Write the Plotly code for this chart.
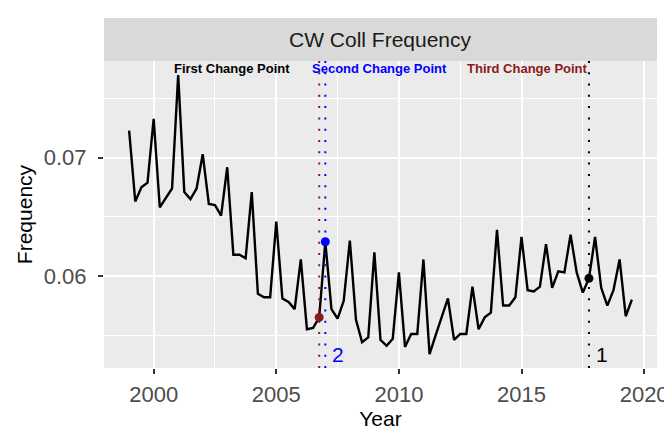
import plotly.graph_objects as go

#%% DATA

years = [1999 + 0.25 * i for i in range(83)]  # quarterly, 1999 Q1 .. 2019 Q3
freq = [
    0.0723, 0.0663, 0.0675, 0.0679, 0.0733, 0.0658, 0.0666, 0.0674,
    0.0770, 0.0671, 0.0665, 0.0674, 0.0703, 0.0661, 0.0660, 0.0651,
    0.0692, 0.0618, 0.0618, 0.0615, 0.0671, 0.0585, 0.0582, 0.0582,
    0.0646, 0.0581, 0.0578, 0.0572, 0.0614, 0.0555, 0.0556, 0.0565,
    0.0629, 0.0572, 0.0564, 0.0579, 0.0630, 0.0563, 0.0544, 0.0548,
    0.0620, 0.0546, 0.0541, 0.0547, 0.0603, 0.0540, 0.0551, 0.0551,
    0.0614, 0.0534, 0.0550, 0.0566, 0.0581, 0.0546, 0.0551, 0.0551,
    0.0591, 0.0555, 0.0565, 0.0569, 0.0639, 0.0575, 0.0575, 0.0582,
    0.0633, 0.0588, 0.0587, 0.0591, 0.0627, 0.0590, 0.0604, 0.0603,
    0.0635, 0.0603, 0.0586, 0.0598, 0.0633, 0.0590, 0.0575, 0.0588,
    0.0614, 0.0566, 0.0580,
]

cp_years = [2017.75, 2007.0, 2006.75]
cp_colors = ['black', 'blue', '#8B1A1A']
cp_names = ['First Change Point', 'Second Change Point', 'Third Change Point']
cp_name_x = [2003.2, 2009.2, 2015.25]
cp_numbers = ['1', '2', '']

panel_title = 'CW Coll Frequency'

#%% PLOT

FONT = 'Liberation Sans, Arial, sans-serif'

x_pad = (max(years) - min(years)) * 0.05
y_pad = (max(freq) - min(freq)) * 0.05
x_range = [min(years) - x_pad, max(years) + x_pad]
y_range = [min(freq) - y_pad, max(freq) + y_pad]

panel_top = 0.877

fig = go.Figure()

fig.add_trace(go.Scatter(
    x=years, y=freq, mode='lines',
    line=dict(color='black', width=2.4),
    hoverinfo='skip', showlegend=False,
))

for yr, col, name, nx, num in zip(cp_years, cp_colors, cp_names, cp_name_x, cp_numbers):
    # dotted vertical line
    fig.add_shape(
        type='line', xref='x', yref='paper',
        x0=yr, x1=yr, y0=0, y1=panel_top,
        line=dict(color=col, width=2, dash='2px,9.3px'),
    )
    # point at change
    fig.add_trace(go.Scatter(
        x=[yr], y=[freq[years.index(yr)]], mode='markers',
        marker=dict(color=col, size=9),
        hoverinfo='skip', showlegend=False,
    ))
    # label on top
    fig.add_annotation(
        x=nx, y=max(freq) + y_pad * 0.5, xref='x', yref='y',
        text=f'<b>{name}</b>', showarrow=False,
        font=dict(family=FONT, size=13, color=col),
    )
    if num:
        fig.add_annotation(
            x=yr, y=min(freq), xref='x', yref='y',
            text=num, showarrow=False, xanchor='left', xshift=5,
            font=dict(family=FONT, size=21, color=col),
        )

# strip
fig.add_shape(
    type='rect', xref='paper', yref='paper',
    x0=0, x1=1, y0=panel_top, y1=1,
    fillcolor='#D9D9D9', line_width=0, layer='below',
)
fig.add_annotation(
    x=0.5, y=(panel_top + 1) / 2, xref='paper', yref='paper',
    xanchor='center', yanchor='middle',
    text=panel_title, showarrow=False,
    font=dict(family=FONT, size=21, color='#1A1A1A'),
)

# page body keeps an 8px margin, so the figure is 8px smaller and margins shifted
fig.update_layout(
    width=664, height=423,
    margin=dict(l=96, r=15, t=10, b=63, autoexpand=False),
    paper_bgcolor='white',
    plot_bgcolor='#EBEBEB',
    font=dict(family=FONT),
    showlegend=False,
)

fig.update_xaxes(
    range=x_range, tick0=2000, dtick=5, automargin=False,
    showgrid=True, gridcolor='white', gridwidth=1.6,
    minor=dict(dtick=2.5, tick0=2000, showgrid=True, gridcolor='white', gridwidth=0.8),
    ticks='outside', ticklen=5, tickwidth=1.5, tickcolor='#333333',
    tickfont=dict(family=FONT, size=22, color='#4D4D4D'), ticklabelstandoff=2,
    title=dict(text='Year', font=dict(family=FONT, size=21, color='black'), standoff=4),
    zeroline=False, showline=False,
)
fig.update_yaxes(
    range=y_range, domain=[0, panel_top], tick0=0.06, dtick=0.01, automargin=False,
    showgrid=True, gridcolor='white', gridwidth=1.6,
    minor=dict(dtick=0.005, tick0=0.06, showgrid=True, gridcolor='white', gridwidth=0.8),
    ticks='outside', ticklen=5, tickwidth=1.5, tickcolor='#333333',
    tickfont=dict(family=FONT, size=22, color='#4D4D4D'), ticklabelstandoff=7,
    title=dict(text='Frequency', font=dict(family=FONT, size=21, color='black'), standoff=5),
    zeroline=False, showline=False,
)

fig.write_html('out.html')
